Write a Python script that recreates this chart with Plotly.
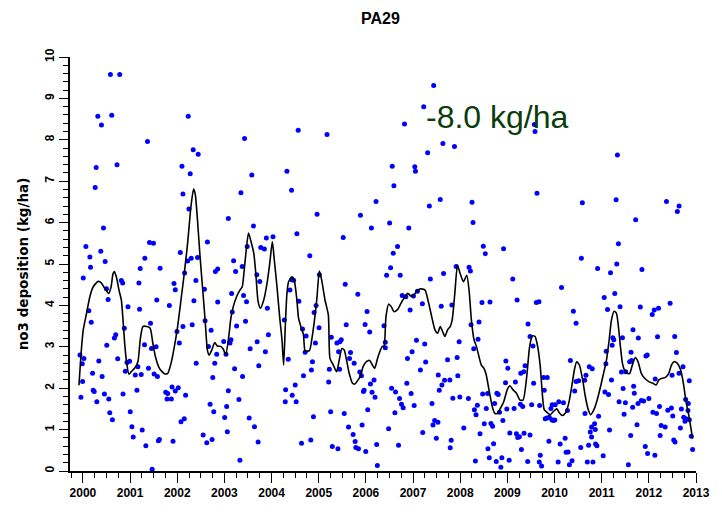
import plotly.graph_objects as go

# ---- weekly observations (decimal year, kg/ha) ----
obs_t = [
 2000.583,2000.780,2000.316,2000.611,2000.393,2002.233,2001.369,2002.338,2002.444,2000.723,
 2000.281,2002.100,2002.275,2000.260,2002.121,2002.247,2003.083,2000.435,2000.063,2000.379,
 2000.147,2001.412,2001.496,2000.471,2000.162,2001.313,2001.636,2001.215,2002.640,2002.065,
 2000.007,2002.156,2002.219,2002.296,2002.430,2000.815,2000.843,2001.187,2001.931,2001.959,
 2000.499,2002.395,2000.534,2001.566,2002.353,2002.858,2002.577,2000.126,2000.955,2001.201,
 2001.833,2002.809,2002.858,2000.176,2000.878,2001.433,2002.121,2002.317,2002.591,2002.718,
 2000.695,2000.667,2000.506,2001.994,2002.044,2001.454,2001.552,2001.306,1999.937,2000.021,
 1999.986,2000.737,2000.337,2000.934,2000.990,2002.662,2002.795,2002.402,2002.985,2003.034,
 2002.837,2000.899,1999.993,2000.204,2000.407,2001.166,2001.390,2001.110,2001.236,2001.510,
 2001.580,2002.753,1999.958,2000.218,2000.239,2000.456,2000.295,2000.548,2000.850,2001.145,
 2001.756,2001.798,2001.889,2001.959,2002.022,2001.784,2001.875,2002.177,2003.083,2000.569,
 2000.625,2001.004,2002.697,2003.048,2002.774,2001.039,2001.067,2001.257,2002.079,2002.149,
 2003.006,2001.334,2001.601,2001.622,2001.910,2002.549,2002.626,2002.739,2003.062,2001.468,
 2003.427,2004.565,2005.176,2003.581,2004.326,2003.350,2004.424,2006.215,2004.965,2005.885,
 2003.617,2006.117,2004.537,2004.031,2003.890,2005.520,2003.483,2003.771,2003.848,2004.810,
 2003.195,2003.378,2003.237,2004.431,2004.466,2004.389,2005.014,2005.562,2003.750,2003.687,
 2003.153,2003.406,2003.469,2004.579,2005.829,2003.167,2003.911,2004.902,2004.944,2006.025,
 2003.448,2003.258,2005.007,2004.656,2004.733,2005.583,2005.983,2006.081,2006.383,2003.118,
 2003.139,2003.546,2003.694,2003.933,2003.869,2004.712,2004.930,2005.267,2005.386,2005.478,
 2005.449,2005.421,2005.674,2005.653,2005.751,2003.216,2003.385,2003.729,2004.354,2004.867,
 2004.845,2005.225,2005.442,2005.871,2005.906,2005.948,2005.962,2006.096,2006.173,2006.194,
 2006.131,2006.039,2003.308,2004.270,2004.677,2004.501,2004.298,2004.438,2004.291,2004.522,
 2005.211,2003.525,2003.638,2003.715,2004.888,2005.253,2005.541,2005.632,2005.730,2005.920,
 2004.635,2004.831,2005.288,2005.407,2005.772,2005.787,2005.843,2005.997,2006.229,2003.329,
 2006.243,
 2007.437,2007.226,2006.819,2009.586,2009.572,2007.633,2007.879,2007.310,2006.559,2007.037,
 2007.051,2006.594,2007.577,2007.346,2008.251,2009.628,2006.503,2006.910,2008.272,2006.671,
 2006.580,2008.490,2008.532,2008.919,2006.524,2006.440,2006.728,2007.914,2008.188,2008.216,
 2007.647,2007.367,2009.115,2006.770,2006.847,2007.008,2007.093,2007.198,2006.938,2007.598,
 2007.823,2008.462,2008.631,2009.206,2009.614,2009.670,2008.230,2008.399,2009.438,2006.412,
 2006.412,2007.072,2007.247,2007.978,2008.378,2008.287,2009.480,2009.543,2006.980,2006.882,
 2007.156,2007.268,2007.732,2007.935,2008.968,2009.010,2009.375,2009.347,2009.284,2007.535,
 2007.949,2007.781,2007.669,2007.612,2007.556,2006.868,2006.545,2006.629,2006.959,2006.713,
 2006.756,2006.791,2007.023,2007.402,2007.844,2007.992,2008.174,2008.476,2008.581,2008.778,
 2008.806,2008.961,2009.171,2009.277,2009.326,2009.515,2009.684,2009.557,2008.364,2008.301,
 2008.336,2008.553,2008.729,2008.834,2008.989,2009.143,2006.615,2006.482,2007.458,2007.423,
 2007.528,2007.205,2007.493,2008.076,2008.511,2008.652,2008.687,2008.905,2008.420,2009.052,
 2009.192,2009.220,2009.256,2009.354,2009.480,2006.692,2007.809,2007.788,2008.708,2008.588,
 2009.298,2008.322,2008.617,2008.764,2008.862,2008.883,2009.038,2009.431,2009.677,2009.698,
 2011.334,2010.590,2011.306,2012.374,2012.641,2012.605,2011.721,2011.355,2010.569,2010.913,
 2011.320,2011.187,2011.854,2010.148,2011.278,2011.054,2011.124,2010.400,2010.457,2011.390,
 2011.819,2012.072,2012.114,2012.205,2012.451,2011.664,2011.777,2011.236,2011.257,2011.440,
 2011.222,2012.184,2012.549,2010.337,2011.096,2011.938,2011.966,2011.622,2011.636,2012.584,
 2010.457,2010.513,2010.737,2010.800,2010.667,2010.639,2011.089,2011.419,2011.510,2011.594,
 2011.208,2009.768,2009.846,2012.135,2012.493,2012.725,2012.641,2009.782,2010.428,2011.068,
 2011.145,2011.454,2011.369,2011.503,2011.678,2011.692,2011.889,2012.001,2012.858,2009.951,
 2010.014,2010.091,2010.190,2010.274,2009.923,2009.838,2009.803,2009.888,2009.944,2010.007,
 2009.972,2010.646,2010.934,2010.850,2010.786,2010.864,2010.758,2011.166,2011.475,2011.657,
 2011.770,2011.840,2011.749,2011.615,2012.086,2012.163,2012.226,2012.261,2012.346,2012.402,
 2012.479,2012.507,2012.669,2012.690,2012.739,2012.767,2012.781,2012.837,2012.830,2012.858,
 2012.788,2012.900,2012.928,2011.924,2011.973,2012.128,2012.240,2012.528,2012.556,2009.881,
 2010.119,2010.225,2010.246,2010.288,2010.555,2010.723,2010.871,2010.899,2010.786,2011.032,
 2010.372,2010.316,2010.077,2010.695,2010.815,2011.566,2009.726,
]
obs_v = [
 9.58,9.58,8.57,8.59,8.36,8.57,7.96,7.76,7.65,7.40,
 7.33,7.36,7.18,6.85,6.69,6.33,6.10,5.87,5.42,5.31,
 5.17,5.52,5.50,5.06,4.92,5.14,4.90,4.89,5.53,5.28,
 4.66,4.78,5.07,5.14,5.16,4.60,4.54,4.54,4.53,4.38,
 4.40,4.60,4.14,4.13,4.11,4.08,4.39,3.87,3.97,3.91,
 4.00,4.82,4.88,3.59,3.45,3.57,3.49,3.53,3.63,3.40,
 3.29,3.21,3.04,3.37,3.09,2.96,3.00,3.05,2.80,2.72,
 2.59,2.71,2.66,2.62,2.65,3.01,2.60,2.60,3.13,2.82,
 2.82,2.41,2.16,2.36,2.28,2.52,2.48,2.32,2.33,2.34,
 2.28,2.26,1.78,1.95,1.92,1.86,1.67,1.74,1.86,1.95,
 1.90,1.87,2.03,1.93,2.01,1.74,1.74,1.83,1.94,1.41,
 1.24,1.43,1.61,1.56,1.43,1.07,0.82,0.99,1.19,1.26,
 1.29,0.61,0.73,0.76,0.72,0.87,0.68,0.76,0.95,0.04,
 8.03,8.23,8.13,7.15,7.24,6.72,6.78,6.51,6.20,6.18,
 5.92,5.87,5.73,5.66,5.63,5.64,5.42,5.40,5.36,5.20,
 5.08,4.94,4.82,4.62,4.61,4.37,4.74,4.51,4.58,4.74,
 4.29,4.24,4.09,4.10,4.27,3.84,3.93,3.83,4.00,3.85,
 3.62,3.50,3.46,3.43,3.26,3.53,3.54,3.36,3.51,3.09,
 3.17,2.95,3.12,3.29,2.88,2.87,3.09,3.23,3.09,3.17,
 3.12,2.88,2.86,2.72,2.60,2.47,2.28,2.54,2.70,2.64,
 2.44,2.46,2.46,2.39,2.30,1.92,1.95,2.10,2.20,1.78,
 1.90,1.48,1.73,3.65,2.30,2.08,1.96,1.83,1.67,1.67,
 2.15,1.28,1.07,0.70,1.31,1.43,1.39,1.06,0.88,1.11,
 0.67,0.75,0.59,0.54,0.71,0.57,0.54,0.47,0.64,0.26,
 0.13,
 9.31,8.80,8.38,8.20,8.37,7.91,7.84,7.69,7.36,7.35,
 7.24,6.89,6.56,6.40,6.49,6.71,5.99,5.87,6.00,5.42,
 5.26,5.43,5.25,5.37,4.91,4.73,4.73,4.94,4.92,4.83,
 4.77,4.64,4.64,4.24,4.21,4.23,4.34,4.04,3.89,3.98,
 4.01,4.07,4.08,4.13,4.07,4.09,3.53,3.60,3.55,3.11,
 2.98,3.16,3.07,3.12,3.18,2.95,3.25,3.02,2.88,2.72,
 2.44,2.63,2.69,2.74,2.66,2.48,2.54,2.40,2.36,2.32,
 2.30,2.20,2.19,2.08,1.95,2.12,2.00,1.91,1.87,1.75,
 1.61,1.53,1.58,1.63,1.76,1.79,1.75,1.86,1.87,1.88,
 1.85,2.13,2.15,1.61,1.56,1.60,1.58,2.12,1.59,1.48,
 1.36,1.51,1.63,1.42,1.50,1.51,1.41,1.02,1.22,1.11,
 1.18,0.93,0.79,1.04,1.14,1.15,1.08,1.22,0.90,0.92,
 0.90,0.81,0.83,0.91,0.87,0.62,0.74,0.56,0.66,0.54,
 0.52,0.24,0.32,0.23,0.09,0.32,0.26,0.23,0.22,0.38,
 7.63,6.48,6.55,6.51,6.40,6.27,6.07,5.49,5.14,4.89,
 5.00,4.79,4.87,4.43,4.29,4.19,3.90,3.86,3.57,3.97,
 3.96,3.78,3.89,3.93,4.05,3.41,3.21,3.22,3.17,3.22,
 3.04,3.24,3.25,2.67,2.89,2.78,2.80,2.87,2.67,2.86,
 2.16,2.18,2.52,2.47,2.31,2.19,2.59,2.39,2.40,2.64,
 2.20,2.26,2.26,2.22,2.31,2.52,2.36,1.95,1.93,1.91,
 1.85,1.99,1.67,1.65,2.05,1.88,1.69,1.75,2.18,1.60,
 1.60,1.67,1.65,1.46,1.51,1.28,1.26,1.30,1.24,1.23,
 1.22,1.39,1.32,1.14,1.06,1.00,0.94,0.99,1.37,1.54,
 1.63,1.70,1.12,0.86,1.42,1.39,1.56,1.10,1.06,1.47,
 1.52,1.33,1.04,1.50,1.30,1.20,1.73,1.63,1.46,1.24,
 1.26,0.84,0.52,0.59,0.42,0.38,0.86,0.75,0.70,0.72,
 0.65,0.79,0.45,0.46,0.57,0.62,0.65,0.61,0.82,0.37,
 0.25,0.15,0.22,0.22,0.22,0.15,0.12,
]

# ---- smoothed trend line ----
trend_t = [
 1999.916,1999.972,2000.007,2000.077,2000.147,2000.218,2000.323,2000.393,2000.463,2000.548,
 2000.597,2000.639,2000.667,2000.709,2000.765,2000.815,2000.850,2000.885,2000.920,2000.976,
 2001.025,2001.096,2001.166,2001.215,2001.271,2001.355,2001.426,2001.482,2001.538,2001.622,
 2001.728,2001.798,2001.868,2001.938,2002.008,2002.079,2002.149,2002.219,2002.289,2002.346,
 2002.381,2002.430,2002.479,2002.535,2002.591,2002.640,2002.676,2002.732,2002.795,2002.851,
 2002.921,2002.978,2003.027,2003.097,2003.132,2003.188,2003.258,2003.329,2003.378,2003.413,
 2003.455,2003.511,2003.567,2003.624,2003.666,2003.715,2003.764,2003.834,2003.904,2003.961,
 2004.017,2004.059,2004.115,2004.171,2004.221,2004.256,2004.291,2004.326,2004.361,2004.431,
 2004.480,2004.537,2004.572,2004.621,2004.677,2004.712,2004.803,2004.852,2004.902,2004.958,
 2005.014,2005.063,2005.133,2005.204,2005.239,2005.309,2005.379,2005.435,2005.491,2005.541,
 2005.590,2005.646,2005.716,2005.765,2005.836,2005.892,2005.941,2006.011,2006.081,2006.138,
 2006.187,2006.257,2006.348,2006.383,2006.426,2006.482,2006.538,2006.594,2006.664,2006.735,
 2006.805,2006.889,2006.959,2007.015,2007.086,2007.156,2007.254,2007.324,2007.395,2007.465,
 2007.521,2007.577,2007.626,2007.676,2007.732,2007.788,2007.830,2007.886,2007.942,2007.999,
 2008.069,2008.139,2008.188,2008.237,2008.293,2008.343,2008.399,2008.448,2008.504,2008.553,
 2008.610,2008.680,2008.729,2008.785,2008.855,2008.925,2008.996,2009.052,2009.122,2009.192,
 2009.263,2009.333,2009.403,2009.473,2009.529,2009.586,2009.642,2009.698,2009.740,2009.782,
 2009.838,2009.909,2009.979,2010.049,2010.105,2010.162,2010.232,2010.302,2010.365,2010.421,
 2010.470,2010.527,2010.597,2010.653,2010.716,2010.765,2010.836,2010.906,2010.976,2011.032,
 2011.102,2011.159,2011.208,2011.264,2011.313,2011.355,2011.397,2011.440,2011.482,2011.538,
 2011.594,2011.650,2011.713,2011.770,2011.840,2011.910,2012.001,2012.086,2012.156,2012.212,
 2012.282,2012.353,2012.423,2012.479,2012.535,2012.605,2012.676,2012.732,2012.788,2012.844,
 2012.886,2012.928,
]
trend_v = [
 2.07,3.00,3.41,3.81,4.21,4.45,4.58,4.54,4.41,4.29,
 4.45,4.77,4.82,4.69,4.37,4.13,3.65,3.09,2.68,2.34,
 2.40,2.48,2.64,3.17,3.49,3.49,3.45,3.09,2.76,2.48,
 2.35,2.36,2.60,3.00,3.49,4.13,4.77,5.49,6.37,6.81,
 6.69,6.05,5.25,4.45,3.65,2.92,2.80,2.92,3.10,3.02,
 3.01,2.94,2.80,3.29,3.65,3.97,4.21,4.37,4.45,4.77,
 5.25,5.75,5.53,5.25,4.77,4.09,3.93,4.13,4.53,5.01,
 5.54,5.09,4.45,3.73,3.17,2.56,3.49,4.29,4.57,4.69,
 4.61,4.13,3.69,3.49,3.29,2.90,2.91,3.17,3.57,4.13,
 4.83,4.61,4.13,3.77,2.72,2.56,2.40,2.68,2.96,2.92,
 2.68,2.36,2.12,2.10,2.20,2.32,2.52,2.64,2.67,2.56,
 2.48,2.76,3.01,3.01,3.73,4.03,3.97,3.85,3.89,4.03,
 4.17,4.29,4.22,4.25,4.35,4.40,4.37,4.09,3.73,3.41,
 3.33,3.49,3.37,3.25,3.41,3.49,3.65,4.29,4.97,4.77,
 4.57,4.73,4.37,3.65,3.17,3.01,2.76,2.56,2.48,2.32,
 1.96,1.56,1.40,1.39,1.52,1.68,1.96,2.06,1.96,1.88,
 1.72,1.71,2.20,3.01,3.26,3.25,3.01,2.52,1.88,1.48,
 1.42,1.36,1.44,1.50,1.40,1.34,1.40,1.64,2.04,2.44,
 2.64,2.56,2.20,1.80,1.48,1.36,1.48,1.72,2.04,2.32,
 2.68,3.17,3.65,3.86,3.81,3.49,3.01,2.60,2.44,2.36,
 2.36,2.56,2.74,2.64,2.36,2.24,2.16,2.12,2.08,2.20,
 2.24,2.26,2.36,2.56,2.64,2.60,2.44,2.12,1.68,1.36,
 1.08,0.78,
]

x_ticks = list(range(2000, 2014))
x_major5 = [2000, 2005, 2010]
y_ticks = list(range(0, 11))
site_title = "PA29"
y_label = "no3 deposition (kg/ha)"
trend_label = "-8.0 kg/ha"

FONT = "Arial, 'Liberation Sans', Helvetica, sans-serif"
XR = [1999.726, 2013.0]
YR = [0, 10]

fig = go.Figure()
fig.add_trace(go.Scatter(
    x=obs_t, y=obs_v, mode="markers",
    marker=dict(color="#0000FF", size=5, line=dict(width=0)),
    showlegend=False, hoverinfo="x+y"))
fig.add_trace(go.Scatter(
    x=trend_t, y=trend_v, mode="lines",
    line=dict(color="black", width=1.6, shape="spline", smoothing=0.6),
    showlegend=False))

fig.update_layout(
    width=722, height=512,
    margin=dict(l=70, r=22, t=57, b=39),
    paper_bgcolor="white", plot_bgcolor="white",
    font=dict(family=FONT, color="black"),
    title=dict(text=site_title, x=0.527, xref="container", xanchor="center",
               y=0.965, yref="container", yanchor="middle",
               font=dict(size=16, weight="bold", family=FONT, color="black")),
    xaxis=dict(
        range=XR, tickvals=x_ticks,
        ticktext=[str(v) for v in x_ticks],
        ticks="outside", ticklen=10, tickwidth=1, tickcolor="black",
        minor=dict(dtick=0.25, tick0=2000, ticks="outside", ticklen=5, tickwidth=1, tickcolor="black"),
        showgrid=False, zeroline=False,
        showline=True, linecolor="black", linewidth=1.6, mirror=False,
        tickfont=dict(size=12, weight="bold", family=FONT),
    ),
    xaxis2=dict(
        overlaying="x", anchor="y", side="bottom",
        range=XR, tickvals=x_major5,
        ticks="outside", ticklen=10, tickwidth=4, tickcolor="black",
        showticklabels=False, showgrid=False, zeroline=False, showline=False,
    ),
    xaxis3=dict(
        overlaying="x", anchor="y", side="top",
        range=XR, ticks="", showticklabels=False, showgrid=False,
        zeroline=False, showline=True, linecolor="#555555", linewidth=1.6,
    ),
    yaxis=dict(
        range=YR, tickvals=y_ticks,
        ticks="outside", ticklen=9, tickwidth=1, tickcolor="black",
        minor=dict(dtick=0.2, tick0=0, ticks="outside", ticklen=5, tickwidth=1, tickcolor="black"),
        tickangle=-90,
        showgrid=False, zeroline=False,
        showline=True, linecolor="black", linewidth=1.6, mirror=False,
        tickfont=dict(size=12, weight="bold", family=FONT),
        title=dict(text=y_label, standoff=12,
                   font=dict(size=13.5, weight="bold", family="'DejaVu Sans', sans-serif")),
    ),
    yaxis2=dict(
        overlaying="y", anchor="x", side="right",
        range=YR, ticks="", showticklabels=False, showgrid=False,
        zeroline=False, showline=True, linecolor="#555555", linewidth=1.6,
    ),
    annotations=[dict(
        text=trend_label, xref="paper", yref="paper",
        x=0.565, y=0.855, xanchor="left", yanchor="middle",
        showarrow=False,
        font=dict(size=32, color="#0B3D0B", family=FONT))],
)

fig.write_html("out.html")
